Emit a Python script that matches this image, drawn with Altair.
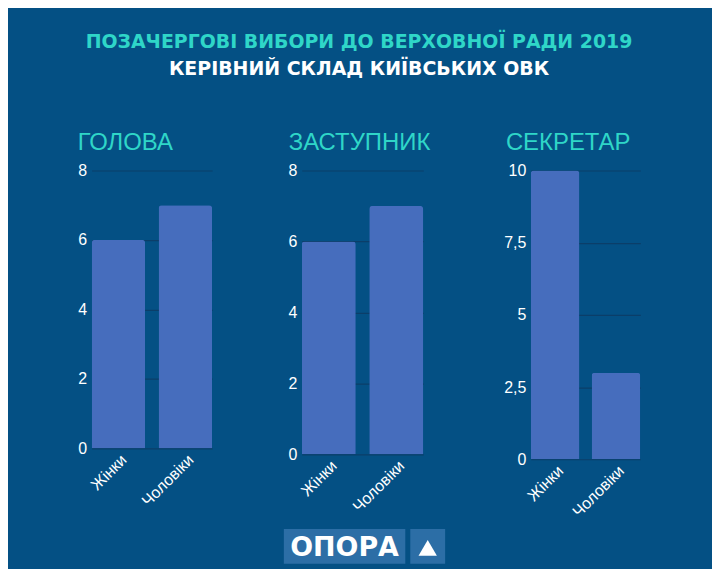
import pandas as pd
import altair as alt

# data
categories = ["Жінки", "Чоловіки"]
holova = [6, 7]
zastupnyk = [6, 7]
sekretar = [10, 3]

BG = "#045084"
BAR = "#466dbd"
GRID = "#0b3e69"
TEAL = "#2fd6c8"


def panel(title, values, domain, ticks, width, height, title_dx):
    df = pd.DataFrame({"cat": categories, "value": values})
    # decimal comma, e.g. 7,5
    y_axis = alt.Axis(
        values=ticks, title=None, domain=False, ticks=False,
        labelColor="white", labelFontSize=16, labelFont="Liberation Sans",
        labelPadding=5, gridColor=GRID, gridWidth=1.2,
        labelExpr="replace(format(datum.value, '~g'), '.', ',')",
    )
    bars = alt.Chart(df).mark_bar(
        color=BAR, cornerRadiusTopLeft=3, cornerRadiusTopRight=3
    ).encode(
        x=alt.X("cat:N", sort=categories, title=None,
                scale=alt.Scale(paddingInner=0.2, paddingOuter=0),
                axis=alt.Axis(labelAngle=-45, labelColor="white", labelFontSize=16,
                              labelFont="Liberation Sans", domain=False, ticks=False,
                              labelPadding=3)),
        y=alt.Y("value:Q", scale=alt.Scale(domain=domain, nice=False), axis=y_axis),
    )
    return bars.properties(
        width=width, height=height,
        title=alt.TitleParams(title, anchor="start", frame="group", dx=title_dx,
                              fontSize=24, font="Liberation Sans", fontWeight="normal",
                              color=TEAL, offset=8),
    )


p1 = panel("ГОЛОВА", holova, [0, 8], [0, 2, 4, 6, 8], 121, 279, -14)
p2 = panel("ЗАСТУПНИК", zastupnyk, [0, 8], [0, 2, 4, 6, 8], 122, 285, -13)
p3 = panel("СЕКРЕТАР", sekretar, [0, 10], [0, 2.5, 5, 7.5, 10], 110, 290, -25)

# logo under the middle panel
logo_df = pd.DataFrame({"t": ["ОПОРА"]})
logo_box = alt.Chart(logo_df).mark_rect(color="#2c6ea6").encode(
    x=alt.value(-18), x2=alt.value(104), y=alt.value(360), y2=alt.value(395)
)
tri_box = alt.Chart(logo_df).mark_rect(color="#2c6ea6").encode(
    x=alt.value(109), x2=alt.value(144), y=alt.value(360), y2=alt.value(395)
)
logo_text = alt.Chart(logo_df).mark_text(
    color="white", font="DejaVu Sans", fontWeight="bold", fontSize=27,
    align="center", baseline="middle"
).encode(text="t:N", x=alt.value(43), y=alt.value(379))
tri = alt.Chart(logo_df).mark_point(
    shape="triangle-up", filled=True, color="white", opacity=1, size=340
).encode(x=alt.value(126.5), y=alt.value(379))

p2 = alt.layer(p2, logo_box, tri_box, logo_text, tri)

left = alt.hconcat(p1, p2, spacing=72)
chart = alt.hconcat(left, p3, spacing=58).properties(
    title=alt.TitleParams(
        "ПОЗАЧЕРГОВІ ВИБОРИ ДО ВЕРХОВНОЇ РАДИ 2019",
        subtitle="КЕРІВНИЙ СКЛАД КИЇВСЬКИХ ОВК",
        anchor="middle", font="DejaVu Sans", fontSize=19, fontWeight="bold",
        color=TEAL, subtitleFont="DejaVu Sans", subtitleFontSize=19,
        subtitleFontWeight="bold", subtitleColor="white", subtitlePadding=8,
        offset=52,
    ),
    padding={"left": 70, "top": 24, "right": 72, "bottom": 4},
    background=BG,
).configure_view(stroke=None)

chart.save("out.html", embed_options={"renderer": "svg", "actions": False})
